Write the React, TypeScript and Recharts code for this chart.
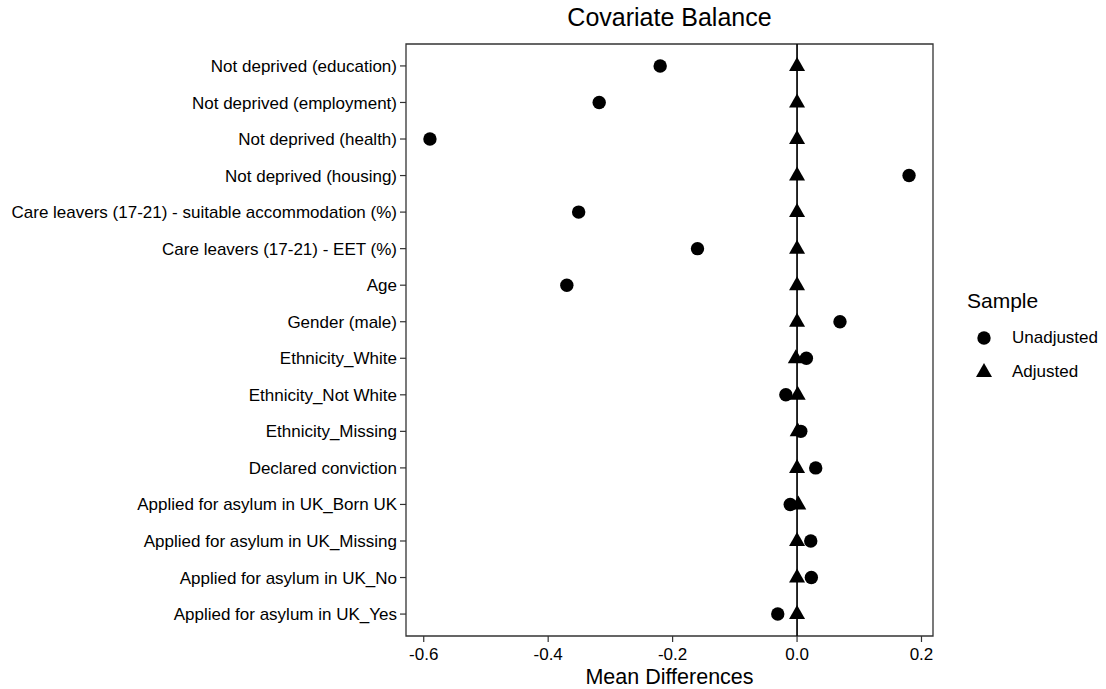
import { ReferenceArea, ReferenceLine, Scatter, ScatterChart, XAxis, YAxis } from "recharts";

// covariates, top to bottom
const covariates = [
  "Not deprived (education)",
  "Not deprived (employment)",
  "Not deprived (health)",
  "Not deprived (housing)",
  "Care leavers (17-21) - suitable accommodation (%)",
  "Care leavers (17-21) - EET (%)",
  "Age",
  "Gender (male)",
  "Ethnicity_White",
  "Ethnicity_Not White",
  "Ethnicity_Missing",
  "Declared conviction",
  "Applied for asylum in UK_Born UK",
  "Applied for asylum in UK_Missing",
  "Applied for asylum in UK_No",
  "Applied for asylum in UK_Yes",
];

const unadjusted = [
  -0.22, -0.318, -0.59, 0.18, -0.351, -0.16, -0.37, 0.069,
  0.015, -0.018, 0.006, 0.03, -0.011, 0.022, 0.023, -0.031,
];

const adjusted = [
  0, 0, 0, 0, 0, 0, 0, 0,
  -0.002, 0.001, 0.001, 0, 0.002, 0, 0, 0,
];

const xTicks = [-0.6, -0.4, -0.2, 0, 0.2];
const yTicks = covariates.map((_, i) => i + 1);

const unadjData = unadjusted.map((x, i) => ({ x, y: i + 1 }));
const adjData = adjusted.map((x, i) => ({ x, y: i + 1 }));

const xMin = -0.6285;
const xMax = 0.2185;
const yMin = 0.4;
const yMax = covariates.length + 0.6;

const FONT = "'Liberation Sans', Arial, sans-serif";

const Dot = (props: any) => <circle cx={props.cx} cy={props.cy} r={6.7} fill="#000" />;

const Tri = (props: any) => {
  const { cx, cy } = props;
  return <polygon points={`${cx - 8},${cy + 5} ${cx + 8},${cy + 5} ${cx},${cy - 9}`} fill="#000" />;
};

function SampleLegend() {
  return (
    <div style={{ fontFamily: FONT, color: "#000" }}>
      <div style={{ fontSize: 21, marginBottom: 8 }}>Sample</div>
      <div style={{ display: "flex", alignItems: "center", height: 34, fontSize: 17 }}>
        <svg width={45} height={34}>
          <circle cx={17} cy={17} r={6.7} fill="#000" />
        </svg>
        <span>Unadjusted</span>
      </div>
      <div style={{ display: "flex", alignItems: "center", height: 34, fontSize: 17 }}>
        <svg width={45} height={34}>
          <polygon points="9,22 25,22 17,8" fill="#000" />
        </svg>
        <span>Adjusted</span>
      </div>
    </div>
  );
}

export default function App() {
  return (
    <div style={{ position: "absolute", left: 0, top: 0, width: 1106, height: 689, background: "#fff" }}>
      <div
        style={{
          position: "absolute",
          left: 406,
          width: 527,
          top: 3,
          textAlign: "center",
          fontFamily: FONT,
          fontSize: 25,
          color: "#000",
        }}
      >
        Covariate Balance
      </div>
      <div style={{ position: "absolute", left: 967, top: 289 }}>
        <SampleLegend />
      </div>
      <ScatterChart width={1106} height={689} margin={{ top: 44, right: 173, bottom: 0, left: 0 }}>
        <XAxis
          type="number"
          dataKey="x"
          domain={[xMin, xMax]}
          ticks={xTicks}
          allowDataOverflow
          tickFormatter={(v: number) => v.toFixed(1)}
          axisLine={false}
          tickLine={{ stroke: "#333", strokeWidth: 1.2 }}
          tickSize={6}
          tickMargin={6}
          height={53}
          tick={{ fill: "#000", fontSize: 17, fontFamily: FONT }}
          label={{
            value: "Mean Differences",
            position: "insideBottom",
            offset: 5,
            fill: "#000",
            fontSize: 21.5,
            fontFamily: FONT,
          }}
        />
        <YAxis
          type="number"
          dataKey="y"
          domain={[yMin, yMax]}
          ticks={yTicks}
          reversed
          allowDataOverflow
          interval={0}
          tickFormatter={(v: number) => covariates[v - 1]}
          axisLine={false}
          tickLine={{ stroke: "#333", strokeWidth: 1.2 }}
          tickSize={6}
          tickMargin={3}
          width={406}
          tick={{ fill: "#000", fontSize: 17, fontFamily: FONT }}
        />
        <ReferenceArea
          x1={xMin}
          x2={xMax}
          y1={yMin}
          y2={yMax}
          fill="none"
          stroke="#333"
          strokeWidth={1.3}
        />
        <ReferenceLine x={0} stroke="#111" strokeWidth={1.8} />
        <Scatter data={unadjData} shape={Dot} isAnimationActive={false} />
        <Scatter data={adjData} shape={Tri} isAnimationActive={false} />
      </ScatterChart>
    </div>
  );
}
